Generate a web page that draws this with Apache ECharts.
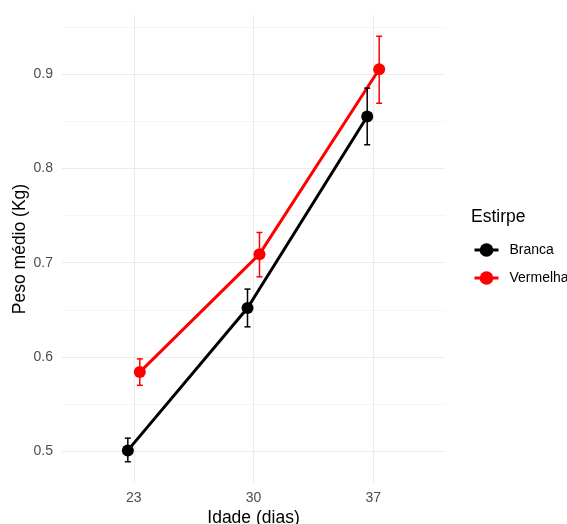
<!DOCTYPE html>
<html>
<head>
<meta charset="utf-8">
<script src="https://cdn.jsdelivr.net/npm/echarts@6/dist/echarts.min.js"></script>
<style>
  html, body { margin: 0; padding: 0; background: #fff; }
  #chart { width: 567px; height: 524px; }
</style>
</head>
<body>
<div id="chart"></div>
<script>
// Age groups (days) and strain labels
const ages = ['23', '30', '37'];
const strains = ['Branca', 'Vermelha'];
const strainColors = ['#000000', '#ff0000'];

// Mean weight (kg) per age, with lower/upper error bounds
const brancaMean  = [0.501, 0.652, 0.855];
const brancaLow   = [0.489, 0.632, 0.825];
const brancaHigh  = [0.514, 0.672, 0.885];
const vermelhaMean = [0.584, 0.709, 0.905];
const vermelhaLow  = [0.570, 0.685, 0.869];
const vermelhaHigh = [0.598, 0.732, 0.940];

// Axis ticks
const yMajorTicks = [0.5, 0.6, 0.7, 0.8, 0.9];
const yMinorTicks = [0.55, 0.65, 0.75, 0.85, 0.95];

const FONT = 'Liberation Sans, Arial, sans-serif';
const DODGE = 0.05; // horizontal offset of each strain around its age position

const means = [brancaMean, vermelhaMean];
const lows = [brancaLow, vermelhaLow];
const highs = [brancaHigh, vermelhaHigh];

// positions 1..n on the x value axis, shifted per strain
function xPos(i, s) { return (i + 1) + (s === 0 ? -DODGE : DODGE); }

const allVals = [].concat(brancaLow, brancaHigh, vermelhaLow, vermelhaHigh);
const yLo = Math.min.apply(null, allVals), yHi = Math.max.apply(null, allVals);
const pad = (yHi - yLo) * 0.05;
const yMin = yLo - pad, yMax = yHi + pad;
const xMin = 0.4, xMax = ages.length + 0.6;

const series = [];
strains.forEach(function (name, s) {
  series.push({
    name: name,
    type: 'line',
    data: means[s].map(function (v, i) { return [xPos(i, s), v]; }),
    symbol: 'circle',
    symbolSize: 12,
    lineStyle: { color: strainColors[s], width: 3 },
    itemStyle: { color: strainColors[s] },
    z: 3,
    silent: true
  });
});
strains.forEach(function (name, s) {
  series.push({
    name: name,
    type: 'custom',
    data: means[s].map(function (v, i) { return [xPos(i, s), lows[s][i], highs[s][i]]; }),
    z: 4,
    silent: true,
    renderItem: function (params, api) {
      const x = api.value(0);
      const lo = api.coord([x, api.value(1)]);
      const hi = api.coord([x, api.value(2)]);
      const half = 3;
      const style = { stroke: strainColors[s], lineWidth: 1.5, fill: null };
      return {
        type: 'group',
        children: [
          { type: 'line', shape: { x1: lo[0], y1: lo[1], x2: hi[0], y2: hi[1] }, style: style },
          { type: 'line', shape: { x1: lo[0] - half, y1: lo[1], x2: lo[0] + half, y2: lo[1] }, style: style },
          { type: 'line', shape: { x1: hi[0] - half, y1: hi[1], x2: hi[0] + half, y2: hi[1] }, style: style }
        ]
      };
    }
  });
});

const chart = echarts.init(document.getElementById('chart'), null, { renderer: 'canvas' });
chart.setOption({
  animation: false,
  backgroundColor: '#ffffff',
  textStyle: { fontFamily: FONT },
  grid: { left: 62, right: 122, top: 15, bottom: 41, containLabel: false, outerBoundsMode: 'none' },
  xAxis: {
    type: 'value',
    min: xMin,
    max: xMax,
    name: 'Idade (dias)',
    nameLocation: 'middle',
    nameGap: 26,
    nameMoveOverlap: false,
    nameTextStyle: { fontSize: 17.5, color: '#000000', fontFamily: FONT },
    axisLine: { show: false },
    axisTick: { show: false, customValues: ages.map(function (a, i) { return i + 1; }) },
    axisLabel: {
      customValues: ages.map(function (a, i) { return i + 1; }),
      formatter: function (v) { return ages[Math.round(v) - 1]; },
      fontSize: 14,
      color: '#4d4d4d',
      margin: 8,
      fontFamily: FONT
    },
    splitLine: { show: true, lineStyle: { color: '#ebebeb', width: 1.1 } }
  },
  yAxis: [{
    type: 'value',
    min: yMin,
    max: yMax,
    name: 'Peso médio (Kg)',
    nameLocation: 'middle',
    nameGap: 33,
    nameMoveOverlap: false,
    nameTextStyle: { fontSize: 17.5, color: '#000000', fontFamily: FONT },
    axisLine: { show: false },
    axisTick: { show: false, customValues: yMajorTicks },
    axisLabel: {
      customValues: yMajorTicks,
      formatter: function (v) { return v.toFixed(1); },
      fontSize: 14,
      color: '#4d4d4d',
      margin: 9,
      fontFamily: FONT
    },
    splitLine: { show: true, lineStyle: { color: '#ebebeb', width: 1.1 } }
  }, {
    type: 'value',
    min: yMin,
    max: yMax,
    position: 'left',
    axisLine: { show: false },
    axisTick: { show: false, customValues: yMinorTicks },
    axisLabel: { show: false, customValues: yMinorTicks },
    splitLine: { show: true, lineStyle: { color: '#f0f0f0', width: 0.6 } }
  }],
  legend: {
    data: strains,
    orient: 'vertical',
    left: 473,
    top: 243,
    padding: 0,
    itemWidth: 24,
    itemHeight: 17,
    itemGap: 14,
    itemStyle: { borderWidth: 0 },
    lineStyle: { width: 3 },
    textStyle: { fontSize: 14, color: '#000000', fontFamily: FONT, padding: [0, 0, 0, 6] }
  },
  graphic: [{
    type: 'text',
    left: 471,
    top: 208,
    style: { text: 'Estirpe', fontSize: 17.5, fill: '#000000', fontFamily: FONT }
  }],
  series: series
});
</script>
</body>
</html>
